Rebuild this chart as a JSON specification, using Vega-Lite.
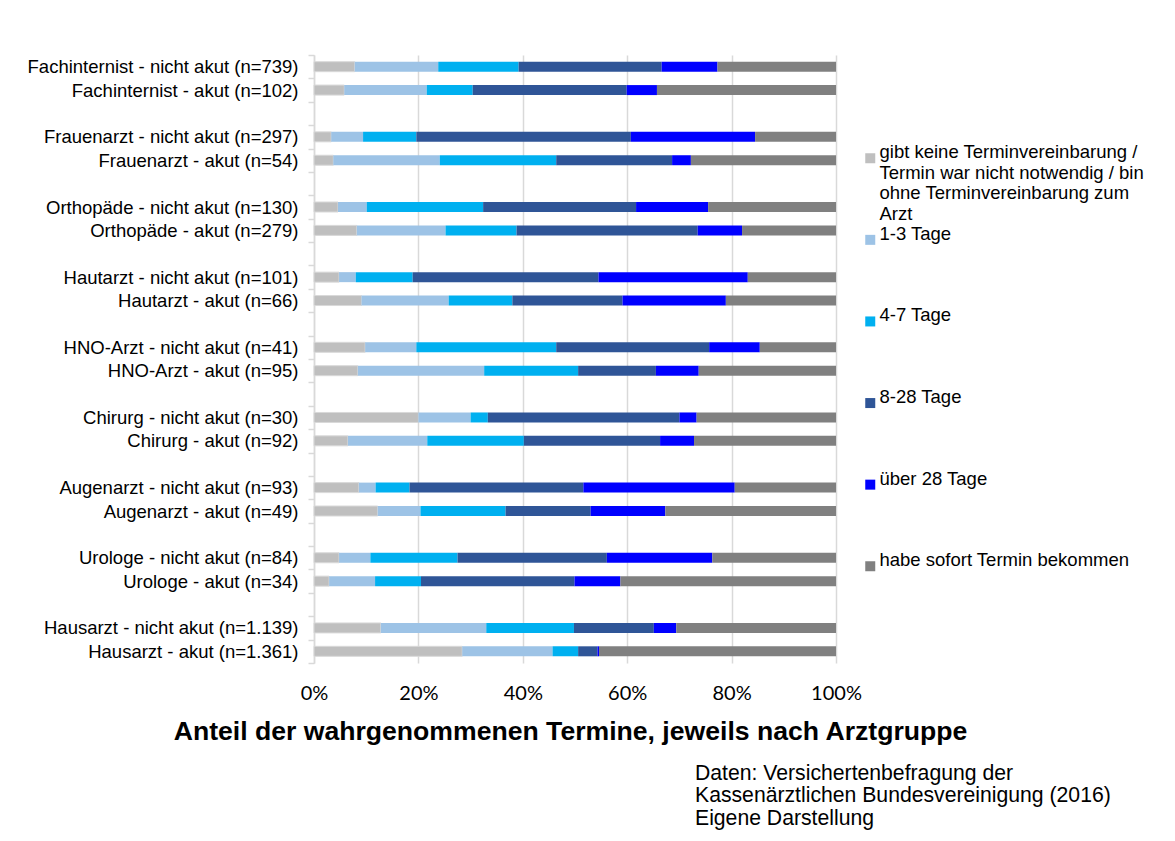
{
  "$schema": "https://vega.github.io/schema/vega-lite/v6.json",
  "width": 522,
  "height": 608,
  "autosize": {"type": "none"},
  "padding": {"left": 314, "top": 55, "right": 339, "bottom": 178},
  "background": "white",
  "config": {"view": {"stroke": null}, "font": "Liberation Sans"},
  "title": {
    "text": ["Daten: Versichertenbefragung der", "Kassenärztlichen Bundesvereinigung (2016)", "Eigene Darstellung"],
    "orient": "bottom",
    "anchor": "start",
    "frame": "group",
    "dx": 381,
    "offset": 18,
    "font": "Liberation Sans",
    "fontSize": 21.2,
    "fontWeight": "normal",
    "lineHeight": 22.8,
    "color": "#000000"
  },
  "data": {
    "values": [
      {"g": "Fachinternist - nicht akut  (n=739)", "k": "gibt keine Terminvereinbarung / Termin war nicht notwendig / bin ohne Terminvereinbarung zum Arzt", "v": 7.8},
      {"g": "Fachinternist - nicht akut  (n=739)", "k": "1-3 Tage", "v": 16.0},
      {"g": "Fachinternist - nicht akut  (n=739)", "k": "4-7 Tage", "v": 15.4},
      {"g": "Fachinternist - nicht akut  (n=739)", "k": "8-28 Tage", "v": 27.4},
      {"g": "Fachinternist - nicht akut  (n=739)", "k": "über 28 Tage", "v": 10.7},
      {"g": "Fachinternist - nicht akut  (n=739)", "k": "habe sofort Termin bekommen", "v": 22.7},

      {"g": "Fachinternist - akut  (n=102)", "k": "gibt keine Terminvereinbarung / Termin war nicht notwendig / bin ohne Terminvereinbarung zum Arzt", "v": 5.8},
      {"g": "Fachinternist - akut  (n=102)", "k": "1-3 Tage", "v": 15.8},
      {"g": "Fachinternist - akut  (n=102)", "k": "4-7 Tage", "v": 8.8},
      {"g": "Fachinternist - akut  (n=102)", "k": "8-28 Tage", "v": 29.5},
      {"g": "Fachinternist - akut  (n=102)", "k": "über 28 Tage", "v": 5.8},
      {"g": "Fachinternist - akut  (n=102)", "k": "habe sofort Termin bekommen", "v": 34.3},

      {"g": "Frauenarzt - nicht akut (n=297)", "k": "gibt keine Terminvereinbarung / Termin war nicht notwendig / bin ohne Terminvereinbarung zum Arzt", "v": 3.3},
      {"g": "Frauenarzt - nicht akut (n=297)", "k": "1-3 Tage", "v": 6.1},
      {"g": "Frauenarzt - nicht akut (n=297)", "k": "4-7 Tage", "v": 10.2},
      {"g": "Frauenarzt - nicht akut (n=297)", "k": "8-28 Tage", "v": 41.1},
      {"g": "Frauenarzt - nicht akut (n=297)", "k": "über 28 Tage", "v": 23.8},
      {"g": "Frauenarzt - nicht akut (n=297)", "k": "habe sofort Termin bekommen", "v": 15.5},

      {"g": "Frauenarzt - akut (n=54)", "k": "gibt keine Terminvereinbarung / Termin war nicht notwendig / bin ohne Terminvereinbarung zum Arzt", "v": 3.7},
      {"g": "Frauenarzt - akut (n=54)", "k": "1-3 Tage", "v": 20.4},
      {"g": "Frauenarzt - akut (n=54)", "k": "4-7 Tage", "v": 22.3},
      {"g": "Frauenarzt - akut (n=54)", "k": "8-28 Tage", "v": 22.2},
      {"g": "Frauenarzt - akut (n=54)", "k": "über 28 Tage", "v": 3.6},
      {"g": "Frauenarzt - akut (n=54)", "k": "habe sofort Termin bekommen", "v": 27.8},

      {"g": "Orthopäde - nicht akut (n=130)", "k": "gibt keine Terminvereinbarung / Termin war nicht notwendig / bin ohne Terminvereinbarung zum Arzt", "v": 4.6},
      {"g": "Orthopäde - nicht akut (n=130)", "k": "1-3 Tage", "v": 5.5},
      {"g": "Orthopäde - nicht akut (n=130)", "k": "4-7 Tage", "v": 22.3},
      {"g": "Orthopäde - nicht akut (n=130)", "k": "8-28 Tage", "v": 29.3},
      {"g": "Orthopäde - nicht akut (n=130)", "k": "über 28 Tage", "v": 13.8},
      {"g": "Orthopäde - nicht akut (n=130)", "k": "habe sofort Termin bekommen", "v": 24.5},

      {"g": "Orthopäde - akut (n=279)", "k": "gibt keine Terminvereinbarung / Termin war nicht notwendig / bin ohne Terminvereinbarung zum Arzt", "v": 8.2},
      {"g": "Orthopäde - akut (n=279)", "k": "1-3 Tage", "v": 17.0},
      {"g": "Orthopäde - akut (n=279)", "k": "4-7 Tage", "v": 13.6},
      {"g": "Orthopäde - akut (n=279)", "k": "8-28 Tage", "v": 34.7},
      {"g": "Orthopäde - akut (n=279)", "k": "über 28 Tage", "v": 8.5},
      {"g": "Orthopäde - akut (n=279)", "k": "habe sofort Termin bekommen", "v": 18.0},

      {"g": "Hautarzt - nicht akut (n=101)", "k": "gibt keine Terminvereinbarung / Termin war nicht notwendig / bin ohne Terminvereinbarung zum Arzt", "v": 4.8},
      {"g": "Hautarzt - nicht akut (n=101)", "k": "1-3 Tage", "v": 3.2},
      {"g": "Hautarzt - nicht akut (n=101)", "k": "4-7 Tage", "v": 10.9},
      {"g": "Hautarzt - nicht akut (n=101)", "k": "8-28 Tage", "v": 35.6},
      {"g": "Hautarzt - nicht akut (n=101)", "k": "über 28 Tage", "v": 28.6},
      {"g": "Hautarzt - nicht akut (n=101)", "k": "habe sofort Termin bekommen", "v": 16.9},

      {"g": "Hautarzt - akut (n=66)", "k": "gibt keine Terminvereinbarung / Termin war nicht notwendig / bin ohne Terminvereinbarung zum Arzt", "v": 9.1},
      {"g": "Hautarzt - akut (n=66)", "k": "1-3 Tage", "v": 16.7},
      {"g": "Hautarzt - akut (n=66)", "k": "4-7 Tage", "v": 12.2},
      {"g": "Hautarzt - akut (n=66)", "k": "8-28 Tage", "v": 21.1},
      {"g": "Hautarzt - akut (n=66)", "k": "über 28 Tage", "v": 19.8},
      {"g": "Hautarzt - akut (n=66)", "k": "habe sofort Termin bekommen", "v": 21.1},

      {"g": "HNO-Arzt - nicht akut (n=41)", "k": "gibt keine Terminvereinbarung / Termin war nicht notwendig / bin ohne Terminvereinbarung zum Arzt", "v": 9.8},
      {"g": "HNO-Arzt - nicht akut (n=41)", "k": "1-3 Tage", "v": 9.8},
      {"g": "HNO-Arzt - nicht akut (n=41)", "k": "4-7 Tage", "v": 26.8},
      {"g": "HNO-Arzt - nicht akut (n=41)", "k": "8-28 Tage", "v": 29.3},
      {"g": "HNO-Arzt - nicht akut (n=41)", "k": "über 28 Tage", "v": 9.7},
      {"g": "HNO-Arzt - nicht akut (n=41)", "k": "habe sofort Termin bekommen", "v": 14.6},

      {"g": "HNO-Arzt - akut (n=95)", "k": "gibt keine Terminvereinbarung / Termin war nicht notwendig / bin ohne Terminvereinbarung zum Arzt", "v": 8.4},
      {"g": "HNO-Arzt - akut (n=95)", "k": "1-3 Tage", "v": 24.2},
      {"g": "HNO-Arzt - akut (n=95)", "k": "4-7 Tage", "v": 18.0},
      {"g": "HNO-Arzt - akut (n=95)", "k": "8-28 Tage", "v": 14.9},
      {"g": "HNO-Arzt - akut (n=95)", "k": "über 28 Tage", "v": 8.2},
      {"g": "HNO-Arzt - akut (n=95)", "k": "habe sofort Termin bekommen", "v": 26.3},

      {"g": "Chirurg - nicht akut (n=30)", "k": "gibt keine Terminvereinbarung / Termin war nicht notwendig / bin ohne Terminvereinbarung zum Arzt", "v": 20.0},
      {"g": "Chirurg - nicht akut (n=30)", "k": "1-3 Tage", "v": 10.0},
      {"g": "Chirurg - nicht akut (n=30)", "k": "4-7 Tage", "v": 3.3},
      {"g": "Chirurg - nicht akut (n=30)", "k": "8-28 Tage", "v": 36.7},
      {"g": "Chirurg - nicht akut (n=30)", "k": "über 28 Tage", "v": 3.3},
      {"g": "Chirurg - nicht akut (n=30)", "k": "habe sofort Termin bekommen", "v": 26.7},

      {"g": "Chirurg - akut (n=92)", "k": "gibt keine Terminvereinbarung / Termin war nicht notwendig / bin ohne Terminvereinbarung zum Arzt", "v": 6.5},
      {"g": "Chirurg - akut (n=92)", "k": "1-3 Tage", "v": 15.2},
      {"g": "Chirurg - akut (n=92)", "k": "4-7 Tage", "v": 18.5},
      {"g": "Chirurg - akut (n=92)", "k": "8-28 Tage", "v": 26.1},
      {"g": "Chirurg - akut (n=92)", "k": "über 28 Tage", "v": 6.5},
      {"g": "Chirurg - akut (n=92)", "k": "habe sofort Termin bekommen", "v": 27.2},

      {"g": "Augenarzt - nicht akut  (n=93)", "k": "gibt keine Terminvereinbarung / Termin war nicht notwendig / bin ohne Terminvereinbarung zum Arzt", "v": 8.6},
      {"g": "Augenarzt - nicht akut  (n=93)", "k": "1-3 Tage", "v": 3.2},
      {"g": "Augenarzt - nicht akut  (n=93)", "k": "4-7 Tage", "v": 6.5},
      {"g": "Augenarzt - nicht akut  (n=93)", "k": "8-28 Tage", "v": 33.3},
      {"g": "Augenarzt - nicht akut  (n=93)", "k": "über 28 Tage", "v": 29.0},
      {"g": "Augenarzt - nicht akut  (n=93)", "k": "habe sofort Termin bekommen", "v": 19.4},

      {"g": "Augenarzt - akut  (n=49)", "k": "gibt keine Terminvereinbarung / Termin war nicht notwendig / bin ohne Terminvereinbarung zum Arzt", "v": 12.2},
      {"g": "Augenarzt - akut  (n=49)", "k": "1-3 Tage", "v": 8.2},
      {"g": "Augenarzt - akut  (n=49)", "k": "4-7 Tage", "v": 16.3},
      {"g": "Augenarzt - akut  (n=49)", "k": "8-28 Tage", "v": 16.3},
      {"g": "Augenarzt - akut  (n=49)", "k": "über 28 Tage", "v": 14.3},
      {"g": "Augenarzt - akut  (n=49)", "k": "habe sofort Termin bekommen", "v": 32.7},

      {"g": "Urologe - nicht akut (n=84)", "k": "gibt keine Terminvereinbarung / Termin war nicht notwendig / bin ohne Terminvereinbarung zum Arzt", "v": 4.8},
      {"g": "Urologe - nicht akut (n=84)", "k": "1-3 Tage", "v": 6.0},
      {"g": "Urologe - nicht akut (n=84)", "k": "4-7 Tage", "v": 16.7},
      {"g": "Urologe - nicht akut (n=84)", "k": "8-28 Tage", "v": 28.6},
      {"g": "Urologe - nicht akut (n=84)", "k": "über 28 Tage", "v": 20.2},
      {"g": "Urologe - nicht akut (n=84)", "k": "habe sofort Termin bekommen", "v": 23.7},

      {"g": "Urologe - akut (n=34)", "k": "gibt keine Terminvereinbarung / Termin war nicht notwendig / bin ohne Terminvereinbarung zum Arzt", "v": 2.9},
      {"g": "Urologe - akut (n=34)", "k": "1-3 Tage", "v": 8.8},
      {"g": "Urologe - akut (n=34)", "k": "4-7 Tage", "v": 8.8},
      {"g": "Urologe - akut (n=34)", "k": "8-28 Tage", "v": 29.4},
      {"g": "Urologe - akut (n=34)", "k": "über 28 Tage", "v": 8.8},
      {"g": "Urologe - akut (n=34)", "k": "habe sofort Termin bekommen", "v": 41.3},

      {"g": "Hausarzt - nicht akut (n=1.139)", "k": "gibt keine Terminvereinbarung / Termin war nicht notwendig / bin ohne Terminvereinbarung zum Arzt", "v": 12.8},
      {"g": "Hausarzt - nicht akut (n=1.139)", "k": "1-3 Tage", "v": 20.2},
      {"g": "Hausarzt - nicht akut (n=1.139)", "k": "4-7 Tage", "v": 16.8},
      {"g": "Hausarzt - nicht akut (n=1.139)", "k": "8-28 Tage", "v": 15.3},
      {"g": "Hausarzt - nicht akut (n=1.139)", "k": "über 28 Tage", "v": 4.3},
      {"g": "Hausarzt - nicht akut (n=1.139)", "k": "habe sofort Termin bekommen", "v": 30.6},

      {"g": "Hausarzt - akut (n=1.361)", "k": "gibt keine Terminvereinbarung / Termin war nicht notwendig / bin ohne Terminvereinbarung zum Arzt", "v": 28.4},
      {"g": "Hausarzt - akut (n=1.361)", "k": "1-3 Tage", "v": 17.3},
      {"g": "Hausarzt - akut (n=1.361)", "k": "4-7 Tage", "v": 4.9},
      {"g": "Hausarzt - akut (n=1.361)", "k": "8-28 Tage", "v": 3.7},
      {"g": "Hausarzt - akut (n=1.361)", "k": "über 28 Tage", "v": 0.3},
      {"g": "Hausarzt - akut (n=1.361)", "k": "habe sofort Termin bekommen", "v": 45.4}
    ]
  },
  "transform": [
    {
      "calculate": "indexof(['gibt keine Terminvereinbarung / Termin war nicht notwendig / bin ohne Terminvereinbarung zum Arzt', '1-3 Tage', '4-7 Tage', '8-28 Tage', 'über 28 Tage', 'habe sofort Termin bekommen'], datum.k)",
      "as": "stackOrder"
    }
  ],
  "mark": {"type": "bar", "height": 10},
  "encoding": {
    "y": {
      "field": "g",
      "type": "nominal",
      "scale": {
        "domain": [
          "Fachinternist - nicht akut  (n=739)", "Fachinternist - akut  (n=102)", " ",
          "Frauenarzt - nicht akut (n=297)", "Frauenarzt - akut (n=54)", "  ",
          "Orthopäde - nicht akut (n=130)", "Orthopäde - akut (n=279)", "   ",
          "Hautarzt - nicht akut (n=101)", "Hautarzt - akut (n=66)", "    ",
          "HNO-Arzt - nicht akut (n=41)", "HNO-Arzt - akut (n=95)", "     ",
          "Chirurg - nicht akut (n=30)", "Chirurg - akut (n=92)", "      ",
          "Augenarzt - nicht akut  (n=93)", "Augenarzt - akut  (n=49)", "       ",
          "Urologe - nicht akut (n=84)", "Urologe - akut (n=34)", "        ",
          "Hausarzt - nicht akut (n=1.139)", "Hausarzt - akut (n=1.361)"
        ],
        "paddingInner": 0,
        "paddingOuter": 0
      },
      "axis": {
        "title": null,
        "ticks": true,
        "tickBand": "extent",
        "tickSize": 6,
        "tickColor": "#d9d9d9",
        "tickWidth": 1.5,
        "domainColor": "#d9d9d9",
        "domainWidth": 1.5,
        "labelFont": "Liberation Sans",
        "labelFontSize": 18.5,
        "labelColor": "#000000",
        "labelPadding": 10,
        "labelLimit": 400,
        "grid": false
      }
    },
    "x": {
      "field": "v",
      "type": "quantitative",
      "stack": "normalize",
      "scale": {"domain": [0, 1]},
      "axis": {
        "title": "Anteil der wahrgenommenen Termine, jeweils nach Arztgruppe",
        "format": ".0%",
        "values": [0, 0.2, 0.4, 0.6, 0.8, 1],
        "grid": true,
        "gridColor": "#d9d9d9",
        "gridWidth": 1.5,
        "domain": false,
        "ticks": false,
        "labelFlush": false,
        "labelFont": "Lato",
        "labelFontSize": 20,
        "labelColor": "#000000",
        "labelPadding": 20,
        "titleFont": "Liberation Sans",
        "titleFontSize": 26.6,
        "titleFontWeight": "bold",
        "titleColor": "#000000",
        "titlePadding": 15,
        "titleX": 256
      }
    },
    "order": {"field": "stackOrder", "type": "quantitative"},
    "color": {
      "field": "k",
      "type": "nominal",
      "sort": [
        "gibt keine Terminvereinbarung / Termin war nicht notwendig / bin ohne Terminvereinbarung zum Arzt",
        "1-3 Tage", "4-7 Tage", "8-28 Tage", "über 28 Tage", "habe sofort Termin bekommen"
      ],
      "scale": {
        "domain": [
          "gibt keine Terminvereinbarung / Termin war nicht notwendig / bin ohne Terminvereinbarung zum Arzt",
          "1-3 Tage", "4-7 Tage", "8-28 Tage", "über 28 Tage", "habe sofort Termin bekommen"
        ],
        "range": ["#bfbfbf", "#9dc3e6", "#00b0f0", "#2f5597", "#0000ff", "#808080"]
      },
      "legend": {
        "title": null,
        "orient": "none",
        "legendX": 547,
        "legendY": 94,
        "padding": 0,
        "symbolType": "square",
        "symbolSize": 100,
        "symbolStrokeWidth": 0,
        "labelFont": "Liberation Sans",
        "labelFontSize": 18.5,
        "labelColor": "#000000",
        "labelOffset": 0,
        "labelLimit": 340,
        "labelBaseline": "alphabetic",
        "rowPadding": 0.6,
        "labelExpr": "datum.label == 'gibt keine Terminvereinbarung / Termin war nicht notwendig / bin ohne Terminvereinbarung zum Arzt' ? ['gibt keine Terminvereinbarung /', 'Termin war nicht notwendig / bin', 'ohne Terminvereinbarung zum', 'Arzt'] : [datum.label, '', '', '']",
        "encode": {
          "labels": {"update": {"dy": {"value": 10.5}, "lineHeight": {"value": 21}}}
        }
      }
    },
    "stroke": {
      "condition": {
        "test": "datum.k === 'gibt keine Terminvereinbarung / Termin war nicht notwendig / bin ohne Terminvereinbarung zum Arzt'",
        "value": "#d9d9d9"
      },
      "value": null
    }
  }
}
